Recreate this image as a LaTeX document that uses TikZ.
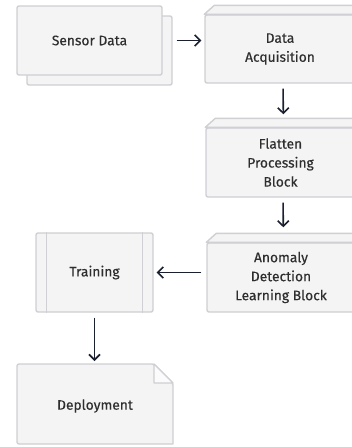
\documentclass[tikz,border=0pt]{standalone}
\usepackage{fontspec}
\setmainfont{Fira Sans}
\newfontfamily\lblfont[FakeBold=0.35]{Fira Sans}
\usetikzlibrary{arrows.meta}
\definecolor{boxfill}{HTML}{F4F4F4}
\definecolor{boxline}{HTML}{CFCFD4}
\definecolor{arrowc}{HTML}{1A2030}
\definecolor{textc}{HTML}{2E2E2E}
\begin{document}
\begin{tikzpicture}[x=1pt,y=-1pt,
  lbl/.style={text=textc, align=center, font=\lblfont\fontsize{13.8}{19}\selectfont},
  box/.style={draw=boxline, fill=boxfill, line width=1.4pt, rounded corners=2pt,
    inner sep=0pt, lbl},
  face/.style={draw=boxline, fill=boxfill, line width=1.4pt, line join=round},
  arr/.style={draw=arrowc, line width=1.6pt,
    -{Straight Barb[length=5.5pt,width=11pt,line width=1.6pt]}}]
\useasboundingbox (0,0) rectangle (352,447);

% stacked "Sensor Data" card
\path[box] (27,16) rectangle (172,85);
\node[box, minimum width=145pt, minimum height=69pt] (sd) at (89.5,40.5) {Sensor Data};

% block shapes with a raised top face
\node[box, minimum width=150pt, minimum height=68pt] (da) at (280,49) {Data\\Acquisition};
\node[box, minimum width=149pt, minimum height=69pt] (fl) at (280.5,162.5) {Flatten\\Processing\\Block};
\node[box, minimum width=148pt, minimum height=69pt] (an) at (281,277.5) {Anomaly\\Detection\\Learning Block};
\foreach \n in {da,fl,an}{
  \draw[face] (\n.north west) -- ++(10,-9) -- ([shift={(10,-9)}]\n.north east)
    -- (\n.north east) -- cycle;
}

% predefined-process box
\node[box, minimum width=117pt, minimum height=79pt] (tr) at (94.5,272.5) {Training};
\draw[boxline, line width=1.4pt] ([xshift=11pt]tr.north west) -- ([xshift=11pt]tr.south west);
\draw[boxline, line width=1.4pt] ([xshift=-11pt]tr.north east) -- ([xshift=-11pt]tr.south east);

% document with folded corner
\coordinate (dpNW) at (17,364);
\coordinate (dpSE) at (173,444);
\draw[face, rounded corners=2pt] (dpNW) -- (154,364) -- (173,383) [sharp corners]
  -- (dpSE) [rounded corners=2pt] -- (17,444) -- cycle;
\draw[face, fill=white!60!boxfill] (154,364) -- (154,383) -- (173,383) -- cycle;
\node[lbl] (dp) at (95,406) {Deployment};
\path (dp) ++(0,-42) coordinate (dptop);

% connectors
\draw[arr, shorten <=14pt, shorten >=3pt] (sd.east) -- (da.west |- sd.east);
\draw[arr, shorten <=5pt, shorten >=13pt] ([xshift=3pt]da.south) -- ([xshift=3pt]fl.north);
\draw[arr, shorten <=5pt, shorten >=15pt] ([xshift=2.5pt]fl.south) -- ([xshift=2.5pt]an.north);
\draw[arr, shorten <=5pt, shorten >=3pt] (an.west |- tr.east) -- (tr.east);
\draw[arr, shorten <=5pt, shorten >=3pt] (tr.south) -- (tr.south |- dptop);
\end{tikzpicture}
\end{document}
